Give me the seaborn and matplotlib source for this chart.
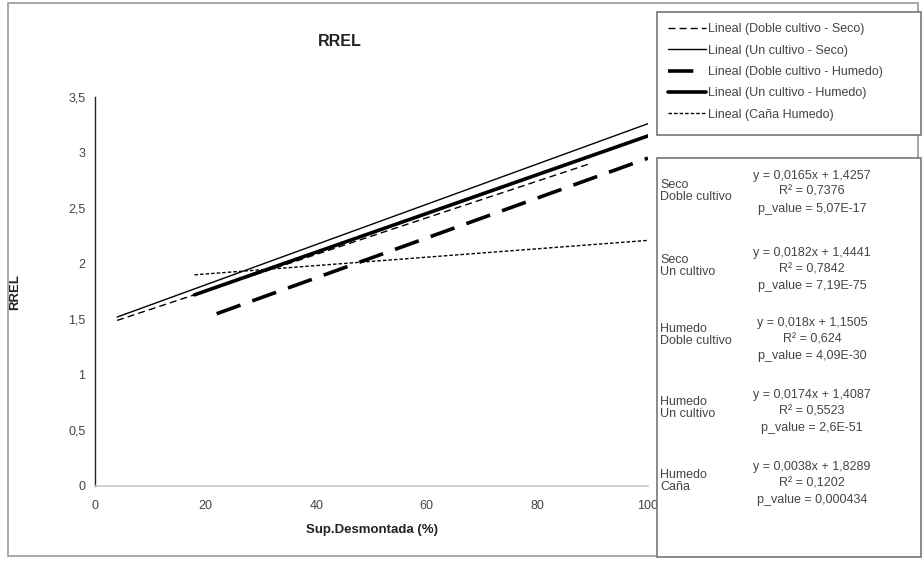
#!/usr/bin/env python3

import numpy as np
import pandas as pd
import matplotlib
matplotlib.use("Agg")
import matplotlib.pyplot as plt
from matplotlib.patches import Rectangle
import seaborn as sns

# trend lines (start / end points)
SERIES = ["Lineal (Doble cultivo - Seco)", "Lineal (Un cultivo - Seco)",
          "Lineal (Doble cultivo - Humedo)", "Lineal (Un cultivo - Humedo)",
          "Lineal (Caña Humedo)"]
X_START = [4, 4, 22, 18, 18]
X_END = [89.5, 100, 100, 100, 100]
Y_START = [1.49, 1.52, 1.55, 1.72, 1.90]
Y_END = [2.90, 3.26, 2.95, 3.15, 2.21]

# annotation texts
GROUP_LABELS = ["Seco\nDoble cultivo", "Seco\nUn cultivo", "Humedo\nDoble cultivo",
                "Humedo\nUn cultivo", "Humedo\nCaña"]
EQUATIONS = ["y = 0,0165x + 1,4257", "y = 0,0182x + 1,4441", "y = 0,018x + 1,1505",
             "y = 0,0174x + 1,4087", "y = 0,0038x + 1,8289"]
R2 = ["0,7376", "0,7842", "0,624", "0,5523", "0,1202"]
P_VALUES = ["5,07E-17", "7,19E-75", "4,09E-30", "2,6E-51", "0,000434"]

X_TICKS = [0, 20, 40, 60, 80, 100]
Y_TICKS = [0, 0.5, 1, 1.5, 2, 2.5, 3, 3.5]


def build_frame():
    rows = []
    for i, name in enumerate(SERIES):
        rows.append({"serie": name, "x": X_START[i], "y": Y_START[i]})
        rows.append({"serie": name, "x": X_END[i], "y": Y_END[i]})
    return pd.DataFrame(rows)


def main():
    sns.set_theme(style="white")
    plt.rcParams['font.family'] = ['Liberation Sans', 'DejaVu Sans']

    W, H = 924, 562
    fig = plt.figure(figsize=(W / 100, H / 100), dpi=100)
    ax = fig.add_axes([95 / W, 1 - 486 / H, (648 - 95) / W, (486 - 97) / H])

    df = build_frame()
    styles = [
        dict(linewidth=1.0, linestyle=(0, (5, 3))),
        dict(linewidth=1.0, linestyle="-"),
        dict(linewidth=2.6, linestyle=(0, (7, 3.5))),
        dict(linewidth=2.6, linestyle="-"),
        dict(linewidth=1.0, linestyle=(0, (2.5, 1.5))),
    ]
    for name, st in zip(SERIES, styles):
        sub = df[df["serie"] == name]
        sns.lineplot(data=sub, x="x", y="y", color="black", ax=ax, label=name,
                     legend=False, **st)

    ax.set_xlim(0, 100)
    ax.set_ylim(0, 3.5)
    ax.set_xticks(X_TICKS)
    ax.set_yticks(Y_TICKS)
    ax.set_yticklabels([("%g" % v).replace(".", ",") for v in Y_TICKS])
    ax.tick_params(axis="both", direction="out", length=3, width=0.8,
                   labelsize=9, colors="#222222", labelcolor="#444444", pad=4)
    ax.tick_params(axis="x", pad=7)
    sns.despine(ax=ax)
    ax.spines["bottom"].set_color("#cccccc")
    ax.spines["left"].set_color("#222222")
    ax.spines["left"].set_linewidth(1.0)
    ax.set_xlabel("Sup.Desmontada (%)", fontsize=9.5, fontweight="bold",
                  color="#222222", labelpad=9)
    ax.set_ylabel("RREL", fontsize=9.5, fontweight="bold", color="#222222",
                  labelpad=34)
    ax.set_title("RREL", fontsize=11.5, fontweight="bold", color="#222222",
                 x=(340 - 95) / (648 - 95), y=1.11)
    ax.set_facecolor("none")

    # outer chart border
    fig.patches.append(Rectangle((8 / W, 1 - 556 / H), (918 - 8) / W, (556 - 3) / H,
                                 transform=fig.transFigure, fill=False,
                                 edgecolor="#999999", linewidth=1.2, zorder=0))

    # legend box
    fig.patches.append(Rectangle((657 / W, 1 - 135 / H), (921 - 657) / W, (135 - 12) / H,
                                 transform=fig.transFigure, facecolor="white",
                                 edgecolor="#777777", linewidth=1.2, zorder=2))
    handles = ax.get_lines()
    leg = fig.legend(handles, SERIES, loc="upper left",
                     bbox_to_anchor=(662 / W, 1 - 17 / H), frameon=False,
                     fontsize=9, handlelength=3.0, handletextpad=0.2,
                     labelspacing=0.75, borderpad=0)
    for t in leg.get_texts():
        t.set_color("#444444")
    leg.set_zorder(3)

    # annotation box
    fig.patches.append(Rectangle((657 / W, 1 - 557 / H), (921 - 657) / W, (557 - 158) / H,
                                 transform=fig.transFigure, facecolor="white",
                                 edgecolor="#777777", linewidth=1.2, zorder=2))
    eq_y = [176, 253, 323, 395, 467]
    lab_y = [191, 266, 335, 408, 481]
    for i in range(len(EQUATIONS)):
        fig.text(660 / W, 1 - lab_y[i] / H, GROUP_LABELS[i], fontsize=9,
                 color="#444444", va="center", ha="left", linespacing=1.05, zorder=4)
        fig.text(812 / W, 1 - eq_y[i] / H, EQUATIONS[i], fontsize=9,
                 color="#444444", va="center", ha="center", zorder=4)
        fig.text(812 / W, 1 - (eq_y[i] + 16) / H, "R² = " + R2[i], fontsize=9,
                 color="#444444", va="center", ha="center", zorder=4)
        fig.text(812 / W, 1 - (eq_y[i] + 33) / H, "p_value = " + P_VALUES[i],
                 fontsize=9, color="#444444", va="center", ha="center", zorder=4)

    fig.savefig("out.png", dpi=100)


if __name__ == '__main__':
    main()
